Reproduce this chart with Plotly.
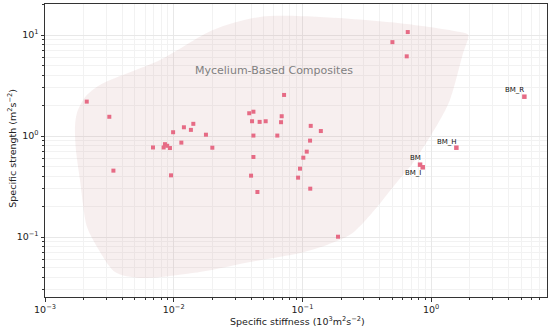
import math
import plotly.graph_objects as go

# --- data ---
stiffness = [0.00211, 0.00316, 0.0034, 0.0069, 0.00835, 0.00855, 0.0089, 0.00935, 0.00953,
             0.00989, 0.01146, 0.0120, 0.0136, 0.0142, 0.0178, 0.01995, 0.0386, 0.0416,
             0.0406, 0.0465, 0.0518, 0.0416, 0.0416, 0.0399, 0.0447, 0.0638, 0.069, 0.0682,
             0.072, 0.116, 0.139, 0.1146, 0.108, 0.1016, 0.0957, 0.0925, 0.115, 0.189,
             0.658, 0.500, 0.646]
strength = [2.19, 1.55, 0.454, 0.77, 0.77, 0.83, 0.80, 0.76, 0.408,
            1.09, 0.86, 1.22, 1.15, 1.32, 1.03, 0.766, 1.68, 1.74,
            1.40, 1.38, 1.40, 1.01, 0.62, 0.405, 0.279, 1.01, 1.57, 1.37,
            2.55, 1.26, 1.12, 0.90, 0.70, 0.61, 0.475, 0.387, 0.301, 0.1007,
            10.7, 8.5, 6.15]

bm_names = ["BM_R", "BM_H", "BM", "BM_I"]
bm_stiffness = [5.3, 1.57, 0.82, 0.86]
bm_strength = [2.45, 0.766, 0.52, 0.49]

# region outline for mycelium-based composites
region_x = [0.00171, 0.00177, 0.00205, 0.00267, 0.00783, 0.0202, 0.0469, 0.137, 0.573,
            1.68, 1.94, 1.77, 1.40, 1.17, 0.75, 0.506, 0.380, 0.296, 0.234, 0.155,
            0.0958, 0.0392, 0.0160, 0.00547, 0.0035, 0.00254, 0.00212, 0.00187, 0.00174]
region_y = [1.23, 1.69, 2.43, 3.20, 5.65, 11.2, 15.1, 15.1, 13.1,
            10.7, 10.0, 6.63, 2.27, 1.44, 0.578, 0.313, 0.198, 0.138, 0.105, 0.0834,
            0.0695, 0.0565, 0.045, 0.0393, 0.045, 0.0796, 0.126, 0.367, 0.727]
region_label = "Mycelium-Based Composites"
region_label_pos = (0.060, 4.5)

x_ticks = [0.001, 0.01, 0.1, 1]
x_ticktext = ["10<sup>−3</sup>", "10<sup>−2</sup>", "10<sup>−1</sup>", "10<sup>0</sup>"]
y_ticks = [0.1, 1, 10]
y_ticktext = ["10<sup>−1</sup>", "10<sup>0</sup>", "10<sup>1</sup>"]

x_title = "Specific stiffness (10<sup>3</sup>m<sup>2</sup>s<sup>−2</sup>)"
y_title = "Specific strength (m<sup>2</sup>s<sup>−2</sup>)"

FONT = "DejaVu Sans"
PINK = "#e66b85"

fig = go.Figure()
fig.add_trace(go.Scatter(
    x=region_x + [region_x[0]], y=region_y + [region_y[0]],
    mode="lines", fill="toself", fillcolor="rgba(200,150,150,0.15)",
    line=dict(width=0, shape="spline", smoothing=0.8), hoverinfo="skip"))
fig.add_trace(go.Scatter(
    x=stiffness, y=strength, mode="markers",
    marker=dict(symbol="square", size=4, color=PINK, line=dict(width=0))))
fig.add_trace(go.Scatter(
    x=bm_stiffness, y=bm_strength, mode="markers",
    marker=dict(symbol="square", size=4.5, color=PINK, line=dict(width=0))))

shifts = {"BM_R": (-10, 7), "BM_H": (-9, 6), "BM": (-5, 7), "BM_I": (-10, -6)}
for n, xv, yv in zip(bm_names, bm_stiffness, bm_strength):
    dx, dy = shifts[n]
    fig.add_annotation(x=math.log10(xv), y=math.log10(yv), text=n, showarrow=False,
                       xshift=dx, yshift=dy,
                       font=dict(family=FONT, size=7, color="#111"))

fig.add_annotation(x=math.log10(region_label_pos[0]), y=math.log10(region_label_pos[1]),
                   text=region_label, showarrow=False,
                   font=dict(family=FONT, size=11, color="#808080"))

fig.add_annotation(x=0.502, y=-0.082, xref="paper", yref="paper", text=x_title,
                   showarrow=False, yanchor="middle",
                   font=dict(family=FONT, size=9.5, color="#222"))
fig.add_annotation(x=-0.066, y=0.509, xref="paper", yref="paper", text=y_title,
                   showarrow=False, textangle=-90, xanchor="center",
                   font=dict(family=FONT, size=9.5, color="#222"))

axis_common = dict(
    type="log", showline=True, linecolor="#333", linewidth=1, mirror=True,
    ticks="outside", ticklen=3.5, tickwidth=0.8, tickcolor="#333",
    showgrid=True, gridcolor="#e8e8e8", gridwidth=0.6,
    tickmode="array", automargin=False,
    tickfont=dict(family=FONT, size=9.5, color="#222"),
    minor=dict(dtick="D1", ticks="outside", ticklen=2, tickwidth=0.6, tickcolor="#333",
               showgrid=True, gridcolor="#f2f2f2", gridwidth=0.5),
    zeroline=False,
)

fig.update_layout(
    width=550, height=329,
    margin=dict(l=45, r=3, t=4, b=32),
    paper_bgcolor="white", plot_bgcolor="white",
    showlegend=False,
    font=dict(family=FONT, color="#222"),
    xaxis=dict(axis_common, range=[-3, 0.9], tickvals=x_ticks, ticktext=x_ticktext),
    yaxis=dict(axis_common, range=[-1.594, 1.307], tickvals=y_ticks, ticktext=y_ticktext),
)

fig.write_html("out.html", config={"displayModeBar": False},
               post_script="document.body.style.margin='0px';document.body.style.padding='0px';")
